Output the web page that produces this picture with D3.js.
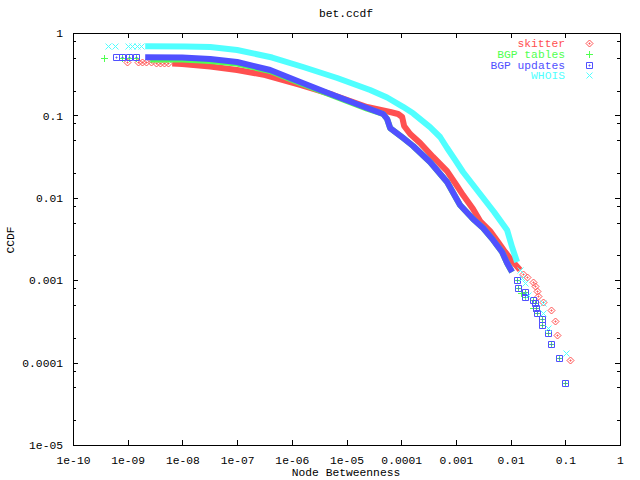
<!DOCTYPE html>
<html><head><meta charset="utf-8">
<script src="https://cdn.jsdelivr.net/npm/d3@7"></script>
<style>
body{margin:0;background:#fff}
svg{display:block}
text{font-family:"Liberation Mono","DejaVu Sans Mono",monospace;font-size:11.3px;fill:#000}
</style>
</head><body>
<svg id="chart" width="640" height="480"></svg>
<script>
// ---------- tick data ----------
const xTickValues = [1e-10,1e-9,1e-8,1e-7,1e-6,1e-5,1e-4,1e-3,1e-2,1e-1,1];
const xTickLabels = ["1e-10","1e-09","1e-08","1e-07","1e-06","1e-05","0.0001","0.001","0.01","0.1","1"];
const yTickValues = [1e-5,1e-4,1e-3,1e-2,1e-1,1];
const yTickLabels = ["1e-05","0.0001","0.001","0.01","0.1","1"];
const yMinorTickValues = [2e-5,5e-5,8e-5,2e-4,5e-4,8e-4,2e-3,5e-3,8e-3,0.02,0.05,0.08,0.2,0.5,0.8];

// ---------- series meta ----------
const seriesNames = ["skitter","BGP tables","BGP updates","WHOIS"];
const seriesColors = ["#ff5050","#50ff50","#5050ff","#50ffff"];
const seriesSymbols = ["diamond","plus","box","cross"];

// ---------- skitter ----------
const skitterBandX = [6.52e-9,9.9e-9,3.23e-8,1e-7,3.27e-7,1.42e-6,5.7e-6,2.38e-5,6.28e-5,8.79e-5,1.04e-4,1.13e-4,1.46e-4,2.22e-4,3.83e-4,6.9e-4,1.05e-3,1.35e-3,2.06e-3,2.77e-3,4.22e-3,5.9e-3,7.93e-3,0.0111,0.0149];
const skitterBandY = [0.4265,0.42,0.392,0.356,0.309,0.234,0.177,0.1265,0.11,0.104,0.0957,0.0744,0.0595,0.0463,0.0313,0.0211,0.0139,0.0108,0.00731,0.00523,0.00395,0.00291,0.0022,0.00166,0.00133];
const skitterPointX = [9.8e-10,1.56e-9,1.85e-9,2.18e-9,2.7e-9,3.33e-9,3.94e-9,4.66e-9,5.51e-9,0.0169,0.02,0.0258,0.028,0.0304,0.0318,0.0392,0.0548,0.0649,0.0706,0.122];
const skitterPointY = [0.445,0.445,0.44,0.44,0.44,0.435,0.435,0.432,0.43,0.00119,0.00109,0.00095,0.000851,0.00074,0.000643,0.000543,0.000435,0.00032,0.000216,0.0001076];

// ---------- BGP tables ----------
const tablesBandX = [2.58e-9,9.94e-9,3.23e-8,1e-7,4.03e-7,1.42e-6,5.7e-6,2.38e-5,4.68e-5,5.53e-5,6.28e-5,1.08e-4,1.65e-4,3.37e-4,6.9e-4,1.19e-3,2.06e-3,3.14e-3,4.78e-3,6.98e-3,8.61e-3,0.01064];
const tablesBandY = [0.477,0.477,0.457,0.4265,0.346,0.247,0.174,0.121,0.104,0.0904,0.0703,0.0532,0.0425,0.0272,0.01555,0.00818,0.00553,0.0043,0.00308,0.0022,0.00162,0.00126];
const tablesPointX = [3.73e-10,7.96e-10,1.07e-9,1.43e-9,0.01313,0.01368,0.01553,0.01837,0.01837,0.0258,0.0258,0.028,0.0292,0.0304,0.0376,0.0376,0.0483,0.0548,0.0769,0.0989];
const tablesPointY = [0.497,0.497,0.497,0.497,0.001005,0.000804,0.0007,0.000719,0.000625,0.000575,0.00046,0.000529,0.00046,0.0004,0.000338,0.000286,0.000229,0.000168,0.000114,5.65e-5];

// ---------- BGP updates ----------
const updatesBandX = [2.09e-9,9.94e-9,3.23e-8,1e-7,4.03e-7,1.42e-6,5.7e-6,2.38e-5,4.68e-5,5.53e-5,6.28e-5,1.08e-4,1.65e-4,3.37e-4,6.9e-4,1.19e-3,2.06e-3,3.14e-3,4.78e-3,6.98e-3,8.61e-3,0.01064];
const updatesBandY = [0.507,0.504,0.4835,0.445,0.356,0.254,0.177,0.123,0.104,0.0904,0.0703,0.0532,0.0425,0.0272,0.01555,0.00818,0.00553,0.0043,0.00308,0.0022,0.00162,0.00126];
const updatesPointX = [6.18e-10,7.96e-10,1.07e-9,1.43e-9,0.01313,0.01368,0.01837,0.01837,0.0258,0.028,0.0292,0.0304,0.0376,0.0376,0.0483,0.0548,0.0769,0.0989];
const updatesPointY = [0.507,0.507,0.507,0.507,0.001005,0.000804,0.000719,0.000625,0.000575,0.000529,0.00046,0.0004,0.000338,0.000286,0.000229,0.000168,0.000114,5.65e-5];

// ---------- WHOIS ----------
const whoisBandX = [2.09e-9,1.13e-8,3.23e-8,1e-7,4.38e-7,1.61e-6,6.75e-6,2.7e-5,5.53e-5,1.08e-4,1.65e-4,3.37e-4,5.14e-4,6.9e-4,9.66e-4,1.35e-3,2.77e-3,4.99e-3,8.61e-3,0.01064,0.01313];
const whoisBandY = [0.69,0.686,0.676,0.622,0.504,0.3867,0.2844,0.2033,0.165,0.127,0.106,0.072,0.0547,0.0402,0.0288,0.02056,0.01112,0.00673,0.00407,0.00253,0.00166];
const whoisPointX = [4.42e-10,5.93e-10,1.02e-9,1.21e-9,1.5e-9,1.77e-9,0.0149,0.0162,0.01837,0.0208,0.0392,0.0392,0.0483,0.103];
const whoisPointY = [0.69,0.69,0.69,0.69,0.69,0.69,0.00133,0.00106,0.000925,0.000661,0.000529,0.0004,0.000263,0.000131];

const bandX = [skitterBandX, tablesBandX, updatesBandX, whoisBandX];
const bandY = [skitterBandY, tablesBandY, updatesBandY, whoisBandY];
const pointX = [skitterPointX, tablesPointX, updatesPointX, whoisPointX];
const pointY = [skitterPointY, tablesPointY, updatesPointY, whoisPointY];

// ---------- drawing ----------
const svg = d3.select("#chart");
const L = 73, R = 620, T = 33, B = 445;
const x = d3.scaleLog().domain([1e-10, 1]).range([L, R]);
const y = d3.scaleLog().domain([1e-5, 1]).range([B, T]);

const symbolPath = {
  diamond: "M0,-3.5L3.5,0L0,3.5L-3.5,0Z M-0.5,-0.5h1v1h-1Z",
  plus: "M-3.5,0H3.5M0,-3.5V3.5",
  box: "M-3,-3H3V3H-3Z M-0.5,-0.5h1v1h-1Z",
  cross: "M-3,-3L3,3M-3,3L3,-3"
};

const plotG = svg.append("g");
seriesNames.forEach((name, i) => {
  const g = plotG.append("g");
  const band = bandX[i].map((v, k) => [v, bandY[i][k]]);
  g.append("path")
    .attr("d", d3.line().x(d => x(d[0])).y(d => y(d[1]))(band))
    .attr("fill", "none")
    .attr("stroke", seriesColors[i])
    .attr("stroke-width", 6)
    .attr("stroke-linejoin", "round");
  const pts = pointX[i].map((v, k) => [v, pointY[i][k]]);
  g.selectAll("path.pt").data(pts).join("path")
    .attr("class", "pt")
    .attr("d", symbolPath[seriesSymbols[i]])
    .attr("transform", d => `translate(${Math.round(x(d[0])) + 0.5},${Math.round(y(d[1])) + 0.5})`)
    .attr("fill", "none")
    .attr("stroke", seriesColors[i])
    .attr("stroke-width", 1);
});

// axes
function styleAxis(g) {
  g.select(".domain").remove();
  g.selectAll("line").attr("stroke", "#000").attr("shape-rendering", "crispEdges");
  g.selectAll("text").attr("font-family", null).attr("font-size", null).attr("fill", "#000");
}
svg.append("g").attr("transform", `translate(0,${B})`)
  .call(d3.axisBottom(x).tickValues(xTickValues).tickFormat((d, i) => xTickLabels[i]).tickSize(-5).tickSizeOuter(0).tickPadding(11))
  .call(styleAxis);
svg.append("g").attr("transform", `translate(0,${T})`)
  .call(d3.axisTop(x).tickValues(xTickValues).tickFormat("").tickSize(-5).tickSizeOuter(0))
  .call(styleAxis);
svg.append("g").attr("transform", `translate(${L},0)`)
  .call(d3.axisLeft(y).tickValues(yTickValues).tickFormat((d, i) => yTickLabels[i]).tickSize(-5).tickSizeOuter(0).tickPadding(10))
  .call(styleAxis);
svg.append("g").attr("transform", `translate(${L},0)`)
  .call(d3.axisLeft(y).tickValues(yMinorTickValues).tickFormat("").tickSize(-3).tickSizeOuter(0))
  .call(styleAxis);
svg.append("g").attr("transform", `translate(${R},0)`)
  .call(d3.axisRight(y).tickValues(yTickValues).tickFormat("").tickSize(-5).tickSizeOuter(0))
  .call(styleAxis);
svg.append("g").attr("transform", `translate(${R},0)`)
  .call(d3.axisRight(y).tickValues(yMinorTickValues).tickFormat("").tickSize(-3).tickSizeOuter(0))
  .call(styleAxis);

svg.append("rect").attr("x", L + 0.5).attr("y", T + 0.5).attr("width", R - L).attr("height", B - T)
  .attr("fill", "none").attr("stroke", "#000").attr("stroke-width", 1);

// titles
svg.append("text").attr("x", 346).attr("y", 17).attr("text-anchor", "middle").text("bet.ccdf");
svg.append("text").attr("x", 346).attr("y", 476).attr("text-anchor", "middle").text("Node Betweenness");
svg.append("text").attr("transform", "translate(14,240) rotate(-90)").attr("text-anchor", "middle").text("CCDF");

// legend
const legendRows = [43, 54, 64.5, 75];
const leg = svg.append("g");
seriesNames.forEach((name, i) => {
  leg.append("text").attr("x", 565).attr("y", legendRows[i] + 4).attr("text-anchor", "end")
    .attr("fill", seriesColors[i]).style("fill", seriesColors[i]).text(name);
  leg.append("path").attr("d", symbolPath[seriesSymbols[i]])
    .attr("transform", `translate(${589.5},${Math.round(legendRows[i]) + 0.5})`)
    .attr("fill", "none").attr("stroke", seriesColors[i]).attr("stroke-width", 1);
});
</script>
</body></html>
